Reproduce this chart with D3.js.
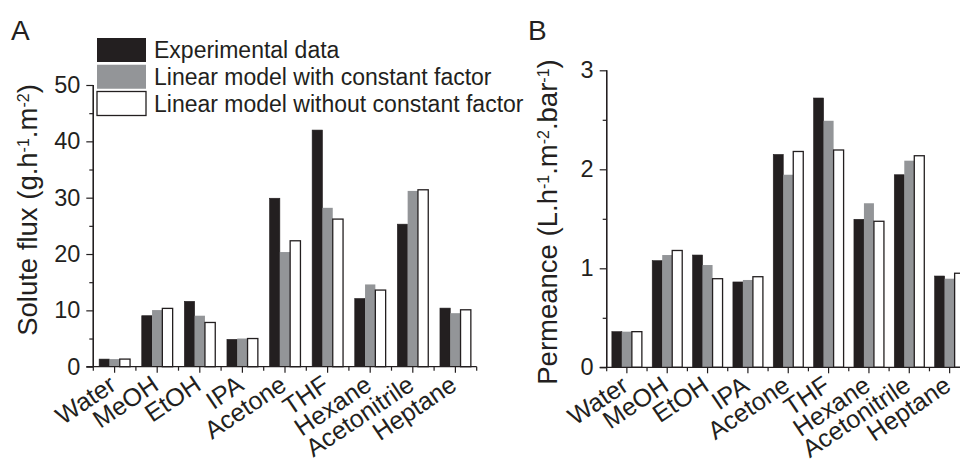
<!DOCTYPE html>
<html>
<head>
<meta charset="utf-8">
<script src="https://cdn.jsdelivr.net/npm/d3@7"></script>
<style>
  html, body { margin: 0; padding: 0; background: #fff; }
  svg { display: block; font-family: "Liberation Sans", Arial, sans-serif; }
</style>
</head>
<body>
<svg id="chart" width="960" height="463"></svg>
<script>
const categories = ["Water", "MeOH", "EtOH", "IPA", "Acetone", "THF", "Hexane", "Acetonitrile", "Heptane"];
const seriesNames = ["Experimental data", "Linear model with constant factor", "Linear model without constant factor"];

// Panel A: solute flux (g.h-1.m-2)
const fluxExp     = [1.35, 9.05, 11.6, 4.85, 29.9, 42.0, 12.1, 25.3, 10.4];
const fluxWith    = [1.35, 10.05, 9.05, 5.0, 20.35, 28.2, 14.6, 31.2, 9.5];
const fluxWithout = [1.35, 10.35, 7.85, 5.0, 22.35, 26.2, 13.6, 31.4, 10.1];
const fluxTicks   = [0, 10, 20, 30, 40, 50];
const fluxMinor   = [5, 15, 25, 35, 45];

// Panel B: permeance (L.h-1.m-2.bar-1)
const permExp     = [0.36, 1.077, 1.134, 0.862, 2.15, 2.72, 1.495, 1.945, 0.922];
const permWith    = [0.36, 1.134, 1.033, 0.882, 1.945, 2.49, 1.657, 2.087, 0.895];
const permWithout = [0.36, 1.18, 0.895, 0.915, 2.18, 2.195, 1.475, 2.137, 0.95];
const permTicks   = [0, 1, 2, 3];
const permMinor   = [0.5, 1.5, 2.5];

const ink = "#231f20";
const fills = ["#231f20", "#939598", "#ffffff"];

const svg = d3.select("#chart");

function panel(opts) {
  const g = svg.append("g");
  const x = d3.scaleBand().domain(categories).range([opts.x0, opts.x1]).paddingInner(0).paddingOuter(0);
  const y = d3.scaleLinear().domain(opts.domain).range([opts.yBottom, opts.yTop]);
  const barW = opts.barW;
  const series = opts.series;

  // bars
  series.forEach((vals, si) => {
    g.append("g").selectAll("rect").data(vals).join("rect")
      .attr("x", (d, i) => x(categories[i]) + x.bandwidth() / 2 - 1.5 * barW + si * barW)
      .attr("y", d => y(d))
      .attr("width", barW)
      .attr("height", d => y(0) - y(d))
      .attr("fill", fills[si])
      .attr("stroke", si === 1 ? "none" : ink)
      .attr("stroke-width", si === 2 ? 1.3 : 0.6);
  });

  // y axis
  const yAxis = d3.axisLeft(y).tickValues(opts.ticks).tickSize(7).tickPadding(6).tickFormat(d3.format("d"));
  const ya = g.append("g").attr("transform", `translate(${opts.x0},0)`).call(yAxis);
  const yMinor = d3.axisLeft(y).tickValues(opts.minor).tickSize(4).tickFormat("");
  const ym = g.append("g").attr("transform", `translate(${opts.x0},0)`).call(yMinor);
  [ya, ym].forEach(a => {
    a.select(".domain").attr("stroke", ink).attr("stroke-width", 1.3).attr("d", `M0,${opts.yBottom}V${opts.yTop}`);
    a.selectAll(".tick line").attr("stroke", ink).attr("stroke-width", 1.2);
  });
  ya.selectAll(".tick text").attr("fill", ink).style("font-size", "23.5px").style("font-family", "Liberation Sans, Arial, sans-serif");

  // x axis (major ticks at band centers)
  const xAxis = d3.axisBottom(x).tickSize(6).tickPadding(4);
  const xa = g.append("g").attr("transform", `translate(0,${opts.yBottom})`).call(xAxis);
  xa.select(".domain").attr("stroke", ink).attr("stroke-width", 1.3).attr("d", `M${opts.x0 - 7},0H${opts.x1}`);
  xa.selectAll(".tick line").attr("stroke", ink).attr("stroke-width", 1.2);
  xa.selectAll(".tick text")
    .attr("fill", ink)
    .style("font-size", "25px")
    .style("font-family", "Liberation Sans, Arial, sans-serif")
    .attr("text-anchor", "end")
    .attr("x", 0).attr("y", 0).attr("dy", 0)
    .attr("transform", "translate(3,22) rotate(-34)");
  // minor ticks at band boundaries
  const bounds = categories.map(c => x(c)).concat([opts.x1]);
  g.append("g").selectAll("line").data(bounds).join("line")
    .attr("x1", d => d).attr("x2", d => d)
    .attr("y1", opts.yBottom).attr("y2", opts.yBottom + 4)
    .attr("stroke", ink).attr("stroke-width", 1.2);

  // y title
  const t = g.append("text")
    .attr("transform", `translate(${opts.titleX},${opts.titleY}) rotate(-90)`)
    .attr("text-anchor", "middle")
    .attr("fill", ink)
    .style("font-size", "27.5px");
  opts.title.forEach(p => {
    if (p.sup) {
      t.append("tspan").attr("baseline-shift", "super").style("font-size", "16px").text(p.t);
    } else {
      t.append("tspan").text(p.t);
    }
  });

  // panel letter
  svg.append("text").attr("x", opts.letterX).attr("y", 40).attr("fill", ink)
    .style("font-size", "28px").text(opts.letter);
  return {x, y};
}

panel({
  x0: 93.3, x1: 476.7, yBottom: 366.7, yTop: 85, domain: [0, 50], barW: 10.3,
  ticks: fluxTicks, minor: fluxMinor,
  series: [fluxExp, fluxWith, fluxWithout],
  title: [{t: "Solute flux (g.h"}, {t: "-1", sup: true}, {t: ".m"}, {t: "-2", sup: true}, {t: ")"}],
  titleX: 37, titleY: 210, letter: "A", letterX: 11
});

panel({
  x0: 606.7, x1: 969.8, yBottom: 367.3, yTop: 70.3, domain: [0, 3], barW: 10,
  ticks: permTicks, minor: permMinor,
  series: [permExp, permWith, permWithout],
  title: [{t: "Permeance (L.h"}, {t: "-1", sup: true}, {t: ".m"}, {t: "-2", sup: true}, {t: ".bar"}, {t: "-1", sup: true}, {t: ")"}],
  titleX: 557, titleY: 222, letter: "B", letterX: 528
});

// legend
const leg = svg.append("g");
const legTop = 38, legStep = 26.75, boxH = 24;
leg.selectAll("rect").data(seriesNames).join("rect")
  .attr("x", 97).attr("y", (d, i) => legTop + i * legStep)
  .attr("width", 49).attr("height", boxH)
  .attr("fill", (d, i) => fills[i])
  .attr("stroke", (d, i) => i === 2 ? ink : "none")
  .attr("stroke-width", 1.3);
leg.selectAll("text").data(seriesNames).join("text")
  .attr("x", 154).attr("y", (d, i) => legTop + i * legStep + boxH / 2)
  .attr("dy", "0.36em")
  .attr("fill", ink)
  .style("font-size", "23px")
  .text(d => d);
</script>
</body>
</html>
